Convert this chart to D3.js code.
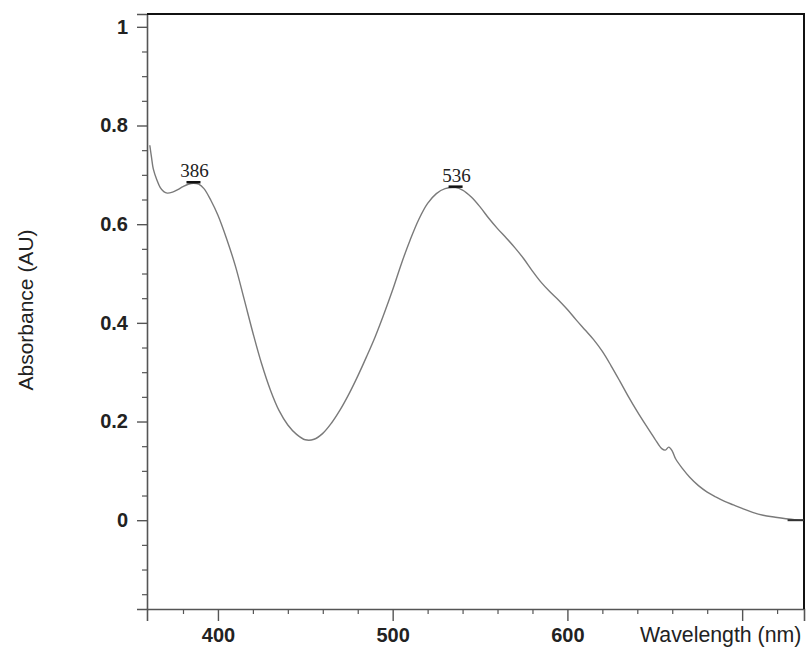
<!DOCTYPE html>
<html>
<head>
<meta charset="utf-8">
<script src="https://cdn.jsdelivr.net/npm/d3@7"></script>
<style>
    body { margin: 0; background: #fff; }
    svg { display: block; }
</style>
</head>
<body>
<div id="chart"></div>
<script>
// spectrum
var wavelength = [361, 362, 363, 365, 367, 369, 371, 374, 377, 380, 383, 386, 389, 392, 396, 400,
    405, 410, 415, 420, 425, 430, 435, 440, 445, 450, 455, 460, 465, 470, 475, 480, 485, 490, 495,
    500, 505, 510, 515, 520, 525, 530, 536, 540, 545, 550, 555, 560, 565, 570, 575, 580, 585, 590,
    595, 600, 605, 610, 615, 620, 625, 630, 635, 640, 645, 650, 654, 656, 658, 660, 662, 666, 670,
    675, 680, 685, 690, 695, 700, 706, 712, 719, 725, 730, 735];
var absorbance = [0.760, 0.735, 0.712, 0.690, 0.674, 0.666, 0.663, 0.665, 0.670, 0.676, 0.681, 0.683,
    0.681, 0.672, 0.648, 0.618, 0.570, 0.515, 0.448, 0.380, 0.317, 0.264, 0.222, 0.193, 0.174, 0.163,
    0.164, 0.176, 0.197, 0.224, 0.256, 0.292, 0.331, 0.372, 0.418, 0.467, 0.520, 0.568, 0.610, 0.642,
    0.662, 0.672, 0.674, 0.669, 0.655, 0.635, 0.612, 0.591, 0.572, 0.552, 0.530, 0.505, 0.482, 0.463,
    0.446, 0.427, 0.406, 0.386, 0.366, 0.342, 0.313, 0.282, 0.250, 0.220, 0.192, 0.165, 0.145, 0.142,
    0.148, 0.140, 0.124, 0.104, 0.087, 0.070, 0.057, 0.047, 0.038, 0.031, 0.024, 0.016, 0.010, 0.006,
    0.003, 0.001, 0.000];

var peakWavelengths = [386, 536];
var peakLabels = ["386", "536"];
var endMarker = [726, 735];

var xTickValues = [400, 500, 600, 700];
var xTickLabels = ["400", "500", "600", ""];
var xMinorTicks = [380, 420, 440, 460, 480, 520, 540, 560, 580, 620, 640, 660, 680, 720];
var yTickValues = [0, 0.2, 0.4, 0.6, 0.8, 1];
var yTickLabels = ["0", "0.2", "0.4", "0.6", "0.8", "1"];
var yMinorTicks = [-0.15, -0.1, -0.05, 0.05, 0.1, 0.15, 0.25, 0.3, 0.35, 0.45, 0.5, 0.55,
    0.65, 0.7, 0.75, 0.85, 0.9, 0.95];

var width = 806;
var height = 648;
var margin = { left: 147, right: 2, top: 14, bottom: 39 };

var svg = d3.select('#chart')
    .append('svg')
    .attr('width', width)
    .attr('height', height);

var x = d3.scaleLinear()
    .domain([359.4, 735.4])
    .range([margin.left, width - margin.right]);
var y = d3.scaleLinear()
    .domain([-0.18, 1.026])
    .range([height - margin.bottom, margin.top]);

var axisColor = "#555";
var textColor = "#222";

// minor ticks first, majors drawn over them
var xMinor = d3.axisBottom(x).tickValues(xMinorTicks).tickSize(5).tickFormat("");
svg.append("g")
    .attr("transform", "translate(0," + y.range()[0] + ")")
    .call(xMinor)
    .call(g => g.select(".domain").remove())
    .call(g => g.selectAll("line").attr("stroke", axisColor).attr("stroke-width", 1.2));

var xAxis = d3.axisBottom(x)
    .tickValues(xTickValues)
    .tickSize(12)
    .tickPadding(7)
    .tickFormat((d, i) => xTickLabels[i]);
svg.append("g")
    .attr("transform", "translate(0," + y.range()[0] + ")")
    .call(xAxis)
    .call(g => g.select(".domain").attr("stroke", axisColor).attr("stroke-width", 1.6))
    .call(g => g.selectAll("line").attr("stroke", axisColor).attr("stroke-width", 1.4))
    .call(g => g.selectAll("text")
        .attr("fill", textColor)
        .attr("font-family", "Liberation Sans, Arial, sans-serif")
        .attr("font-weight", "bold")
        .attr("font-size", 20));

var yMinor = d3.axisLeft(y).tickValues(yMinorTicks).tickSize(5).tickFormat("");
svg.append("g")
    .attr("transform", "translate(" + x.range()[0] + ",0)")
    .call(yMinor)
    .call(g => g.select(".domain").remove())
    .call(g => g.selectAll("line").attr("stroke", axisColor).attr("stroke-width", 1.2));

var yAxis = d3.axisLeft(y)
    .tickValues(yTickValues)
    .tickSize(10)
    .tickPadding(9)
    .tickFormat((d, i) => yTickLabels[i]);
svg.append("g")
    .attr("transform", "translate(" + x.range()[0] + ",0)")
    .call(yAxis)
    .call(g => g.select(".domain").attr("stroke", axisColor).attr("stroke-width", 1.6))
    .call(g => g.selectAll("line").attr("stroke", axisColor).attr("stroke-width", 1.4))
    .call(g => g.selectAll("text")
        .attr("fill", textColor)
        .attr("font-family", "Liberation Sans, Arial, sans-serif")
        .attr("font-weight", "bold")
        .attr("font-size", 20));

// top and right frame
svg.append("path")
    .attr("d", "M" + x.range()[0] + "," + y.range()[1] + "H" + x.range()[1] + "V" + y.range()[0])
    .attr("fill", "none")
    .attr("stroke", "#111")
    .attr("stroke-width", 2);

// axis titles
svg.append("text")
    .attr("transform", "translate(33," + 310 + ") rotate(-90)")
    .attr("text-anchor", "middle")
    .attr("fill", textColor)
    .attr("font-family", "Liberation Sans, Arial, sans-serif")
    .attr("font-size", 21)
    .text("Absorbance (AU)");

svg.append("text")
    .attr("x", 640)
    .attr("y", 642)
    .attr("fill", textColor)
    .attr("font-family", "Liberation Sans, Arial, sans-serif")
    .attr("font-size", 21.3)
    .text("Wavelength (nm)");

// spectrum
var points = wavelength.map((w, i) => ({ w: w, a: absorbance[i] }));
var line = d3.line()
    .x(d => x(d.w))
    .y(d => y(d.a))
    .curve(d3.curveCatmullRom.alpha(0.5));

svg.append("path")
    .datum(points)
    .attr("d", line)
    .attr("fill", "none")
    .attr("stroke", "#7a7a7a")
    .attr("stroke-width", 1.4);

// peak marks
var peaks = peakWavelengths.map((w, i) => ({ w: w, a: absorbance[wavelength.indexOf(w)], label: peakLabels[i] }));
var pg = svg.append("g");
pg.selectAll("line")
    .data(peaks)
    .enter()
    .append("line")
    .attr("x1", d => x(d.w) - 7)
    .attr("x2", d => x(d.w) + 7)
    .attr("y1", d => y(d.a) - 1)
    .attr("y2", d => y(d.a) - 1)
    .attr("stroke", "#111")
    .attr("stroke-width", 2.5);
pg.selectAll("text")
    .data(peaks)
    .enter()
    .append("text")
    .attr("x", d => x(d.w) + 1)
    .attr("y", d => y(d.a) - 6)
    .attr("text-anchor", "middle")
    .attr("fill", textColor)
    .attr("font-family", "Liberation Serif, Times New Roman, serif")
    .attr("font-size", 19)
    .text(d => d.label);

svg.append("line")
    .attr("x1", x(endMarker[0]))
    .attr("x2", x(endMarker[1]))
    .attr("y1", y(0))
    .attr("y2", y(0))
    .attr("stroke", "#333")
    .attr("stroke-width", 2);
</script>
</body>
</html>
